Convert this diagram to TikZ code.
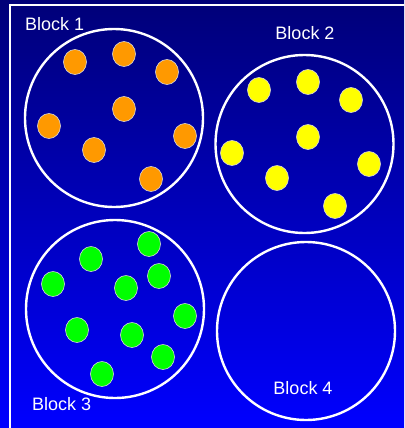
\documentclass[tikz,border=0pt]{standalone}
\usepackage{fontspec}
\setmainfont{Liberation Sans}
\usetikzlibrary{shapes.geometric}
\definecolor{navytop}{RGB}{0,0,120}
\definecolor{bluebot}{RGB}{0,0,255}
\definecolor{dotorange}{RGB}{255,153,0}
\definecolor{dotyellow}{RGB}{255,255,0}
\definecolor{dotgreen}{RGB}{0,255,0}

\begin{document}
\begin{tikzpicture}[
  x=1pt, y=-1pt,
  block/.style={draw=white, line width=2.4pt, circle, minimum size=178pt, inner sep=0pt},
  dot/.style={draw=white!85!black, line width=0.6pt, ellipse, minimum width=23pt,
    minimum height=25pt, inner sep=0pt},
  lbl/.style={text=white, font=\fontsize{18}{20}\selectfont, inner sep=0pt}
]
\useasboundingbox (0,0) rectangle (404,428);
\clip (0,0) rectangle (404,428);
\shade[top color=navytop, bottom color=bluebot] (0,0) rectangle (404,428);
\draw[white, line width=2pt] (10,5) rectangle (420,440);

% the four blocks
\node[block] (b1) at (114,118) {};
\node[block] (b2) at (304.5,144) {};
\node[block] (b3) at (115,309) {};
\node[block] (b4) at (306,331) {};

\node[lbl, anchor=west] (l1) at (25,24) {Block 1};
\node[lbl] (l2) at (305,33) {Block 2};
\node[lbl, anchor=west] (l3) at (32,404) {Block 3};
\node[lbl] (l4) at (303,388) {Block 4};

% dots
\foreach \px/\py [count=\i] in {75/62, 124/54, 167/72, 124/109, 49/126, 185/136, 94/150, 151/179}
  \node[dot, fill=dotorange] (o\i) at (\px,\py) {};
\foreach \px/\py [count=\i] in {259/90, 308/82, 351/100, 308/137, 232/153, 369/164, 277/178, 335/206}
  \node[dot, fill=dotyellow] (y\i) at (\px,\py) {};
\foreach \px/\py [count=\i] in {149/244, 91/259, 159/276, 53/284, 126/288, 185/316, 77/330, 132/335, 163/357, 102/374}
  \node[dot, fill=dotgreen] (g\i) at (\px,\py) {};
\end{tikzpicture}
\end{document}
